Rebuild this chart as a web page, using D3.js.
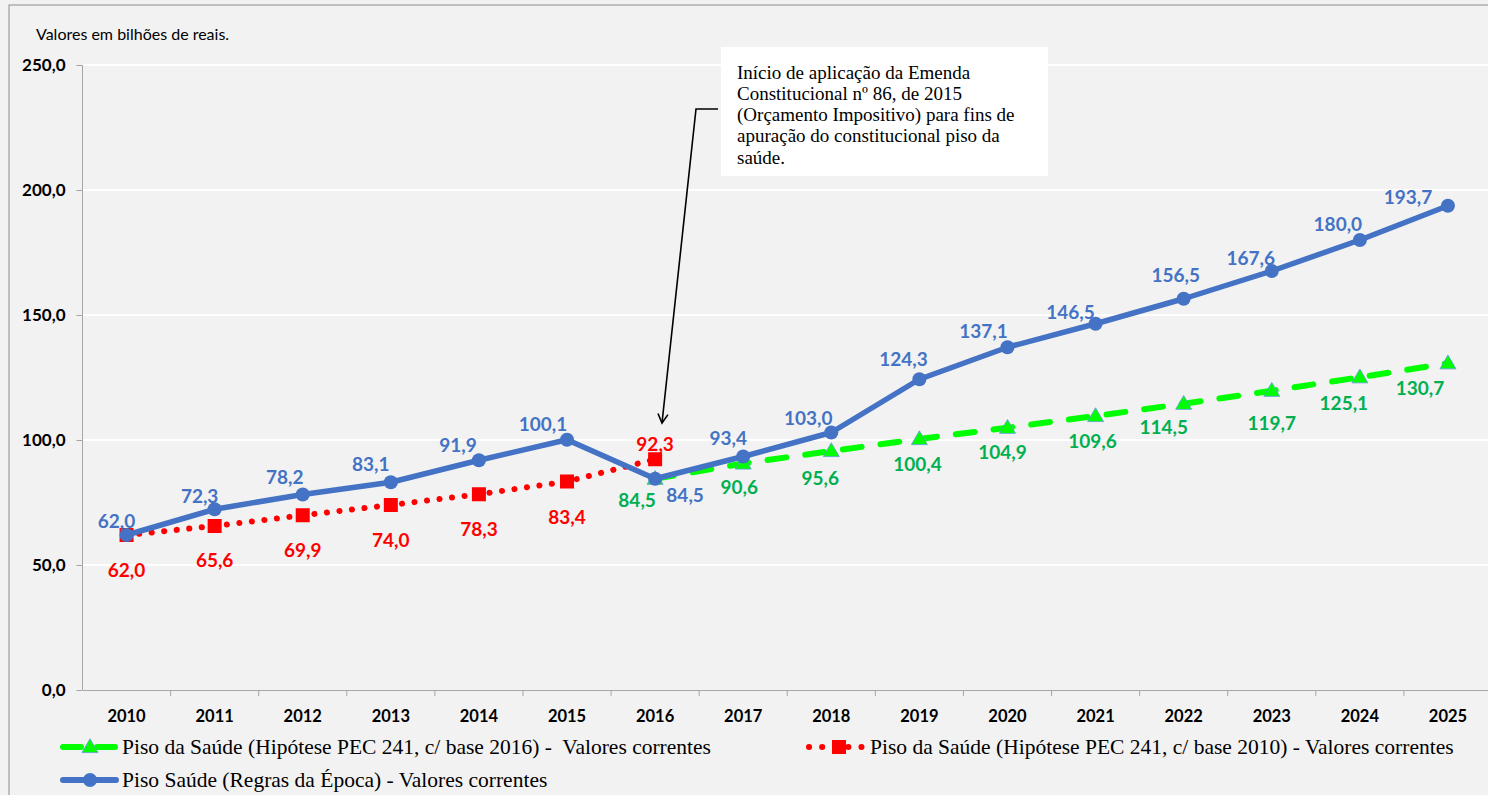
<!DOCTYPE html>
<html><head><meta charset="utf-8">
<script src="https://cdn.jsdelivr.net/npm/d3@7"></script>
<style>
html,body{margin:0;padding:0;background:#f2f2f2;}
svg{display:block;}
</style></head>
<body>
<svg id="chart" width="1488" height="795"></svg>
<script>
// ---- data ----
const years = ["2010","2011","2012","2013","2014","2015","2016","2017","2018","2019","2020","2021","2022","2023","2024","2025"];
const blueYears = years;
const blueValues = [62.0,72.3,78.2,83.1,91.9,100.1,84.5,93.4,103.0,124.3,137.1,146.5,156.5,167.6,180.0,193.7];
const redYears = ["2010","2011","2012","2013","2014","2015","2016"];
const redValues = [62.0,65.6,69.9,74.0,78.3,83.4,92.3];
const greenYears = ["2016","2017","2018","2019","2020","2021","2022","2023","2024","2025"];
const greenValues = [84.5,90.6,95.6,100.4,104.9,109.6,114.5,119.7,125.1,130.7];
const yTicks = [0,50,100,150,200,250];
const subtitle = "Valores em bilhões de reais.";
const noteLines = ["Início de aplicação da Emenda","Constitucional nº 86, de 2015","(Orçamento Impositivo) para fins de","apuração do constitucional piso da","saúde."];
const legendGreen = "Piso da Saúde (Hipótese PEC 241, c/ base 2016) -  Valores correntes";
const legendRed = "Piso da Saúde (Hipótese PEC 241, c/ base 2010) - Valores correntes";
const legendBlue = "Piso Saúde (Regras da Época) - Valores correntes";

// ---- label nudges (layout only) ----
const blueNudge = [[-10,-15],[-15,-14],[-18,-18],[-20,-19],[-21,-16],[-24,-16],[30,16],[-15,-19],[-23,-15],[-16,-21],[-24,-17],[-25,-12],[-8,-24],[-21,-14],[-22,-17],[-40,-9]];
const redNudge = [[0,34],[0,33],[0,34],[0,34],[0,34],[0,35],[0,-16]];
const greenNudge = [[-18,21],[-4,23],[-11,26],[-2,24],[-5,24],[-3,24],[-20,23],[0,32],[-16,25],[-28,24]];

const BLUE="#4472c4", RED="#ff0000", GREEN="#00ff00", GREEN_T="#00b050";
const svg = d3.select("#chart");
const fmt = v => d3.format(".1f")(v).replace(".", ",");

// frame
svg.append("rect").attr("x",9).attr("y",5).attr("width",1500).attr("height",800)
  .attr("fill","#f2f2f2").attr("stroke","#8c8c8c").attr("stroke-width",1);

const x = d3.scaleBand().domain(years).range([82.5,1492]).padding(0);
const xc = d => x(d) + x.bandwidth()/2;
const y = d3.scaleLinear().domain([0,250]).range([690,65]);

// gridlines
svg.append("g").selectAll("line").data(yTicks.filter(t=>t>0)).join("line")
  .attr("x1",82.5).attr("x2",1492).attr("y1",d=>y(d)).attr("y2",d=>y(d))
  .attr("stroke","#ffffff").attr("stroke-width",2);

// y axis
const ya = svg.append("g").attr("transform","translate(82.5,0)")
  .call(d3.axisLeft(y).tickValues(yTicks).tickSize(6).tickPadding(11).tickFormat(fmt));
ya.select(".domain").attr("stroke","#a6a6a6").attr("d","M0,65V690");
ya.selectAll(".tick line").attr("stroke","#a6a6a6");
ya.selectAll("text").attr("font-family","Lato").attr("font-weight","bold").attr("font-size",17).attr("fill","#000");

// x axis
const xa = svg.append("g").attr("transform","translate(0,690)")
  .call(d3.axisBottom(x).tickSize(0).tickPadding(20));
xa.select(".domain").attr("stroke","#a6a6a6");
xa.selectAll("text").attr("font-family","Lato").attr("font-weight","bold").attr("font-size",16.5).attr("fill","#000");
xa.selectAll(".edge").data(years.slice(1)).join("line").attr("class","edge")
  .attr("x1",d=>x(d)).attr("x2",d=>x(d)).attr("y1",0).attr("y2",6).attr("stroke","#a6a6a6");

// subtitle
svg.append("text").attr("x",36).attr("y",33).attr("dominant-baseline","central")
  .attr("font-family","Lato").attr("font-size",16).attr("fill","#000").text(subtitle);

const line = d3.line().x(d=>xc(d[0])).y(d=>y(d[1]));
const redData = redYears.map((d,i)=>[d,redValues[i]]);
const greenData = greenYears.map((d,i)=>[d,greenValues[i]]);
const blueData = blueYears.map((d,i)=>[d,blueValues[i]]);

// red series
svg.append("path").datum(redData).attr("d",line).attr("fill","none")
  .attr("stroke",RED).attr("stroke-width",6).attr("stroke-linecap","round").attr("stroke-dasharray","0.1 12.5");
svg.append("g").selectAll("rect").data(redData).join("rect")
  .attr("x",d=>xc(d[0])-7).attr("y",d=>y(d[1])-7).attr("width",14).attr("height",14).attr("fill",RED);

// green series
svg.append("path").datum(greenData).attr("d",line).attr("fill","none")
  .attr("stroke",GREEN).attr("stroke-width",6).attr("stroke-linecap","round").attr("stroke-dasharray","19 19");
const tri = d3.symbol().type(d3.symbolTriangle).size(110);
svg.append("g").selectAll("path").data(greenData).join("path")
  .attr("d",tri).attr("transform",d=>`translate(${xc(d[0])},${y(d[1])+1})`)
  .attr("fill",GREEN).attr("stroke","#5b9bd5").attr("stroke-width",0.8);

// blue series
svg.append("path").datum(blueData).attr("d",line).attr("fill","none")
  .attr("stroke",BLUE).attr("stroke-width",5.5).attr("stroke-linejoin","round");
svg.append("g").selectAll("circle").data(blueData).join("circle")
  .attr("cx",d=>xc(d[0])).attr("cy",d=>y(d[1])).attr("r",7).attr("fill",BLUE);

// labels
function labels(data, nudge, color){
  svg.append("g").selectAll("text").data(data).join("text")
    .attr("x",(d,i)=>xc(d[0])+nudge[i][0]).attr("y",(d,i)=>y(d[1])+nudge[i][1])
    .attr("text-anchor","middle").attr("dominant-baseline","central")
    .attr("font-family","Lato").attr("font-weight","bold").attr("font-size",19)
    .attr("fill",color).text(d=>fmt(d[1]));
}
labels(redData, redNudge, RED);
labels(greenData, greenNudge, GREEN_T);
labels(blueData, blueNudge, BLUE);

// annotation box
svg.append("rect").attr("x",721).attr("y",47).attr("width",327).attr("height",129).attr("fill","#fff");
svg.append("g").selectAll("text").data(noteLines).join("text")
  .attr("x",737).attr("y",(d,i)=>72+i*21.3).attr("dominant-baseline","central")
  .attr("font-family","Liberation Serif").attr("font-size",19).attr("fill","#000").text(d=>d);

// arrow
svg.append("defs").append("marker").attr("id","arr").attr("viewBox","-10 -6 12 12")
  .attr("refX",0).attr("refY",0).attr("markerWidth",12).attr("markerHeight",12)
  .attr("markerUnits","userSpaceOnUse").attr("orient","auto")
  .append("path").attr("d","M-9,-5L0,0L-9,5").attr("fill","none").attr("stroke","#000").attr("stroke-width",1.6);
svg.append("path").attr("d","M718,109H696L662,423").attr("fill","none")
  .attr("stroke","#000").attr("stroke-width",1.6).attr("marker-end","url(#arr)");

// legend
const LF = 21.5;
const lg = svg.append("g");
lg.append("line").attr("x1",63).attr("x2",116).attr("y1",747).attr("y2",747)
  .attr("stroke",GREEN).attr("stroke-width",6).attr("stroke-linecap","round").attr("stroke-dasharray","18 16");
lg.append("path").attr("d",tri).attr("transform","translate(90,748)").attr("fill",GREEN).attr("stroke","#5b9bd5").attr("stroke-width",0.8);
lg.append("text").attr("x",122).attr("y",747).attr("dominant-baseline","central").style("white-space","pre")
  .attr("font-family","Liberation Serif").attr("font-size",LF).attr("fill","#000").text(legendGreen);

lg.append("line").attr("x1",809).attr("x2",862).attr("y1",747).attr("y2",747)
  .attr("stroke",RED).attr("stroke-width",6).attr("stroke-linecap","round").attr("stroke-dasharray","0.1 13");
lg.append("rect").attr("x",832).attr("y",740).attr("width",14).attr("height",14).attr("fill",RED);
lg.append("text").attr("x",870).attr("y",747).attr("dominant-baseline","central")
  .attr("font-family","Liberation Serif").attr("font-size",LF).attr("fill","#000").text(legendRed);

lg.append("line").attr("x1",63).attr("x2",116).attr("y1",780).attr("y2",780)
  .attr("stroke",BLUE).attr("stroke-width",6).attr("stroke-linecap","round");
lg.append("circle").attr("cx",90).attr("cy",780).attr("r",7).attr("fill",BLUE);
lg.append("text").attr("x",122).attr("y",780).attr("dominant-baseline","central")
  .attr("font-family","Liberation Serif").attr("font-size",LF).attr("fill","#000").text(legendBlue);
</script>
</body></html>
